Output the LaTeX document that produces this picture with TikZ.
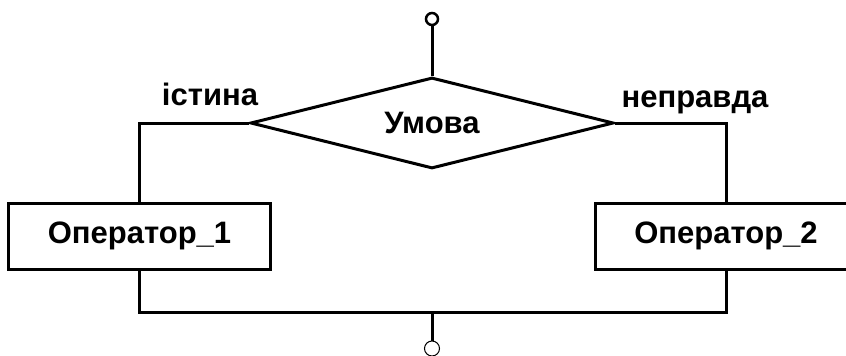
\documentclass[tikz,border=0pt]{standalone}
\usepackage{fontspec}
\setmainfont{Liberation Sans}
\usetikzlibrary{shapes.geometric}
\begin{document}
\begin{tikzpicture}[x=1pt,y=-1pt,
  line width=3pt,
  lbl/.style={font=\fontsize{31}{37}\selectfont\bfseries, inner sep=0pt},
  opbox/.style={draw, rectangle, minimum width=262pt, minimum height=66pt, inner sep=0pt, font=\fontsize{31}{37}\selectfont\bfseries},
  cond/.style={draw, diamond, aspect=4, minimum width=363pt, minimum height=91pt, inner sep=0pt, font=\fontsize{31}{37}\selectfont\bfseries},
  term/.style={draw, circle, fill=white, inner sep=0pt}
]
\useasboundingbox (0,0) rectangle (846,356);
\clip (0,0) rectangle (846,356);
\node[term, minimum size=12pt, line width=2.5pt] (start) at (432,19) {};
\node[cond] (c) at (432,123) {Умова};
\node[opbox] (op1) at (139.5,236) {Оператор\_1};
\node[opbox] (op2) at (726,236) {Оператор\_2};
\coordinate (j) at (432,312);
\node[term, minimum size=15pt, line width=1pt] (fin) at (432,348.5) {};
\node[lbl, anchor=base] (t) at (210,105) {істина};
\node[lbl, anchor=base] (f) at (695,107) {неправда};
\draw (start) -- (c.north);
\draw (c.west) -| (op1.north);
\draw (c.east) -| (op2.north);
\draw (op1.south) |- (j) -| (op2.south);
\draw (j) -- (fin.north);
\end{tikzpicture}
\end{document}
